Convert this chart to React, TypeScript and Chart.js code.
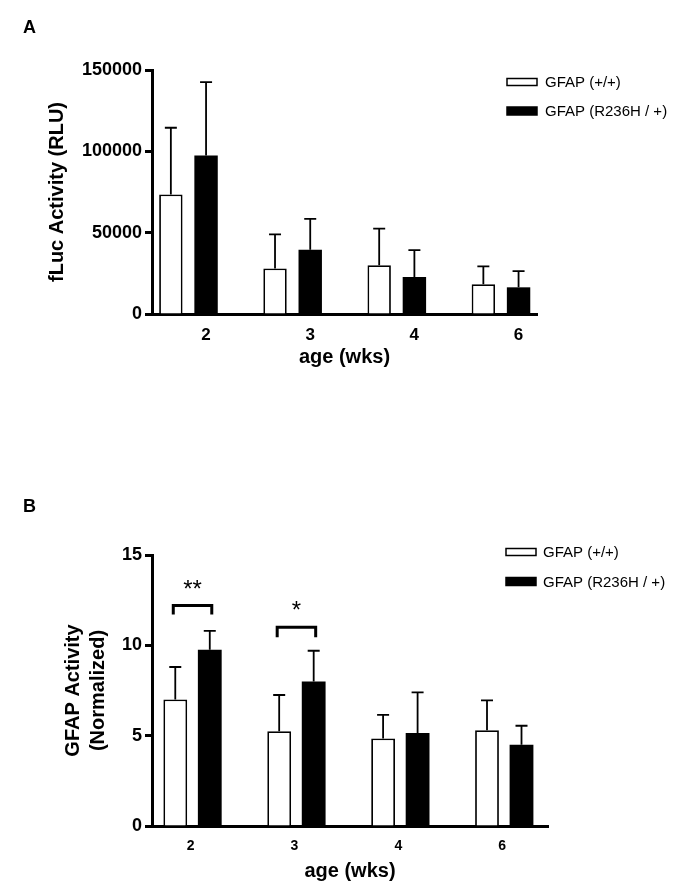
import React, { useEffect, useRef } from 'react';
import { Chart, registerables } from 'chart.js';

Chart.register(...registerables);

const FONT = "'Liberation Sans', Arial, Helvetica, sans-serif";

// shared
const categories = ['2', '3', '4', '6'];
const seriesNames = ['GFAP (+/+)', 'GFAP (R236H / +)'];
const xTitle = 'age (wks)';

// Panel A
const aTitle = 'fLuc Activity (RLU)';
const aWildMean = [73500, 28000, 30000, 18300];
const aWildSD = [41000, 21000, 22500, 11000];
const aMutMean = [97500, 39500, 22700, 16400];
const aMutSD = [45000, 19000, 16600, 10000];
const aYTicks = [0, 50000, 100000, 150000];

// Panel B
const bTitle = ['GFAP Activity', '(Normalized)'];
const bWildMean = [7.0, 5.25, 4.85, 5.3];
const bWildSD = [1.8, 2.0, 1.3, 1.65];
const bMutMean = [9.75, 8.0, 5.15, 4.5];
const bMutSD = [1.05, 1.7, 2.25, 1.05];
const bYTicks = [0, 5, 10, 15];

// Panel B significance markers
const bSigCategory = [0, 1];
const bSigLabel = ['**', '*'];
const bSigBracketTop = [12.2, 11.0];
const bSigBracketLeg = [11.7, 10.45];
const bSigLabelBase = [12.65, 11.5];

const toPoints = (vals: number[]) => vals.map((v, i) => ({ x: i, y: v }));

const errorBarPlugin = {
  id: 'errorBars',
  afterDatasetsDraw(chart: any, _args: any, opts: any) {
    const ctx = chart.ctx;
    const yScale = chart.scales.y;
    ctx.save();
    ctx.strokeStyle = '#000';
    ctx.lineWidth = opts.width || 1.8;
    chart.data.datasets.forEach((ds: any, di: number) => {
      const meta = chart.getDatasetMeta(di);
      const sds: number[] = opts.sds[di];
      meta.data.forEach((el: any, j: number) => {
        const v = ds.data[j].y;
        const top = yScale.getPixelForValue(v + sds[j]);
        const x = el.x;
        ctx.beginPath();
        ctx.moveTo(x, el.y);
        ctx.lineTo(x, top);
        ctx.moveTo(x - opts.cap, top);
        ctx.lineTo(x + opts.cap, top);
        ctx.stroke();
      });
    });
    ctx.restore();
  },
};

const boxLegendPlugin = {
  id: 'boxLegend',
  afterDraw(chart: any, _args: any, opts: any) {
    const ctx = chart.ctx;
    ctx.save();
    chart.data.datasets.forEach((ds: any, i: number) => {
      const cy = opts.ys[i];
      const h = opts.boxH[i];
      ctx.fillStyle = ds.backgroundColor;
      ctx.fillRect(opts.x, cy - h / 2, opts.boxW, h);
      ctx.strokeStyle = '#000';
      ctx.lineWidth = 1.5;
      ctx.strokeRect(opts.x, cy - h / 2, opts.boxW, h);
      ctx.fillStyle = '#000';
      ctx.font = `15px ${FONT}`;
      ctx.textAlign = 'left';
      ctx.textBaseline = 'middle';
      ctx.fillText(ds.label, opts.textX, cy + 1);
    });
    ctx.restore();
  },
};

const sigPlugin = {
  id: 'sigBrackets',
  afterDatasetsDraw(chart: any, _args: any, opts: any) {
    if (!opts || !opts.enabled) return;
    const ctx = chart.ctx;
    const yScale = chart.scales.y;
    const m0 = chart.getDatasetMeta(0);
    const m1 = chart.getDatasetMeta(1);
    ctx.save();
    ctx.strokeStyle = '#000';
    ctx.fillStyle = '#000';
    ctx.lineWidth = 3;
    ctx.lineJoin = 'miter';
    bSigCategory.forEach((idx, k) => {
      const x1 = m0.data[idx].x - 2;
      const x2 = m1.data[idx].x + 2;
      const yT = yScale.getPixelForValue(bSigBracketTop[k]);
      const yL = yScale.getPixelForValue(bSigBracketLeg[k]);
      ctx.beginPath();
      ctx.moveTo(x1, yL);
      ctx.lineTo(x1, yT);
      ctx.lineTo(x2, yT);
      ctx.lineTo(x2, yL);
      ctx.stroke();
      ctx.font = `24px ${FONT}`;
      ctx.textAlign = 'center';
      ctx.textBaseline = 'alphabetic';
      ctx.fillText(bSigLabel[k], (x1 + x2) / 2, yScale.getPixelForValue(bSigLabelBase[k]));
    });
    ctx.restore();
  },
};

type PanelCfg = {
  height: number;
  wild: number[];
  wildSD: number[];
  mut: number[];
  mutSD: number[];
  yTicks: number[];
  yTitle: string | string[];
  yTitleFont: any;
  yTitlePadTop: number;
  xMin: number;
  xMax: number;
  catPct: number;
  barPct: number;
  padTop: number;
  padRight: number;
  xAxisHeight: number;
  xTickFont: number;
  xTickPad: number;
  xLabelOffset: number;
  xTitlePadBottom: number;
  legendX: number;
  legendTextX: number;
  legendYs: number[];
  sig: boolean;
};

function buildConfig(p: PanelCfg): any {
  return {
    type: 'bar',
    data: {
      datasets: [
        {
          label: seriesNames[0],
          data: toPoints(p.wild),
          backgroundColor: '#ffffff',
          borderColor: '#000000',
          borderWidth: 1.8,
          categoryPercentage: p.catPct,
          barPercentage: p.barPct,
        },
        {
          label: seriesNames[1],
          data: toPoints(p.mut),
          backgroundColor: '#000000',
          borderColor: '#000000',
          borderWidth: 0,
          categoryPercentage: p.catPct,
          barPercentage: p.barPct,
        },
      ],
    },
    options: {
      responsive: false,
      animation: false,
      events: [],
      layout: { padding: { top: p.padTop, right: p.padRight, bottom: 0, left: 0 } },
      plugins: {
        legend: { display: false },
        tooltip: { enabled: false },
        errorBars: { sds: [p.wildSD, p.mutSD], cap: 6, width: 1.8 },
        boxLegend: { x: p.legendX, textX: p.legendTextX, ys: p.legendYs, boxW: 30, boxH: [7, 8] },
        sigBrackets: { enabled: p.sig },
      },
      scales: {
        x: {
          type: 'linear',
          min: p.xMin,
          max: p.xMax,
          offset: false,
          grid: { display: false, drawTicks: false },
          border: { display: true, color: '#000', width: 3 },
          afterBuildTicks: (s: any) => {
            s.ticks = categories.map((_, i) => ({ value: i }));
          },
          ticks: {
            autoSkip: false,
            maxRotation: 0,
            minRotation: 0,
            labelOffset: p.xLabelOffset,
            padding: p.xTickPad,
            color: '#000',
            font: { family: FONT, size: p.xTickFont, weight: 'bold' },
            callback: (v: any) => categories[Math.round(v)] ?? '',
          },
          title: {
            display: true,
            text: xTitle,
            color: '#000',
            font: { family: FONT, size: 20, weight: 'bold' },
            padding: { top: 0, bottom: p.xTitlePadBottom },
          },
          afterFit: (s: any) => {
            s.height = p.xAxisHeight;
          },
        },
        y: {
          min: p.yTicks[0],
          max: p.yTicks[p.yTicks.length - 1],
          afterBuildTicks: (s: any) => {
            s.ticks = p.yTicks.map((v) => ({ value: v }));
          },
          grid: {
            drawOnChartArea: false,
            drawTicks: true,
            tickLength: 7,
            tickWidth: 3,
            tickColor: '#000',
          },
          border: { display: true, color: '#000', width: 3 },
          ticks: {
            padding: 3,
            color: '#000',
            font: { family: FONT, size: 18, weight: 'bold' },
            callback: (v: any) => String(v),
          },
          title: {
            display: true,
            text: p.yTitle,
            color: '#000',
            font: p.yTitleFont,
            padding: { top: p.yTitlePadTop, bottom: 0 },
          },
          afterFit: (s: any) => {
            s.width = 152;
          },
        },
      },
    },
    plugins: [errorBarPlugin, boxLegendPlugin, sigPlugin],
  };
}

const panelA: PanelCfg = {
  height: 446,
  wild: aWildMean,
  wildSD: aWildSD,
  mut: aMutMean,
  mutSD: aMutSD,
  yTicks: aYTicks,
  yTitle: aTitle,
  yTitleFont: { family: FONT, size: 20, weight: 'bold' },
  yTitlePadTop: 45,
  xMin: -0.35,
  xMax: 3.346,
  catPct: 0.676,
  barPct: 0.665,
  padTop: 70,
  padRight: 152,
  xAxisHeight: 132,
  xTickFont: 17,
  xTickPad: 11,
  xLabelOffset: 17.5,
  xTitlePadBottom: 77,
  legendX: 507,
  legendTextX: 545,
  legendYs: [82, 111],
  sig: false,
};

const panelB: PanelCfg = {
  height: 447,
  wild: bWildMean,
  wildSD: bWildSD,
  mut: bMutMean,
  mutSD: bMutSD,
  yTicks: bYTicks,
  yTitle: bTitle,
  yTitleFont: { family: FONT, size: 20, weight: 'bold', lineHeight: 1.25 },
  yTitlePadTop: 61,
  xMin: -0.39,
  xMax: 3.421,
  catPct: 0.664,
  barPct: 0.69,
  padTop: 109,
  padRight: 141,
  xAxisHeight: 67,
  xTickFont: 14,
  xTickPad: 12,
  xLabelOffset: -2,
  xTitlePadBottom: 10,
  legendX: 506,
  legendTextX: 543,
  legendYs: [106, 135.5],
  sig: true,
};

function Panel({ cfg, top }: { cfg: PanelCfg; top: number }) {
  const ref = useRef<HTMLCanvasElement | null>(null);
  useEffect(() => {
    if (!ref.current) return;
    const chart = new Chart(ref.current, buildConfig(cfg));
    return () => chart.destroy();
  }, [cfg]);
  return (
    <canvas
      ref={ref}
      width={689}
      height={cfg.height}
      style={{ position: 'absolute', left: 0, top, width: 689, height: cfg.height, display: 'block' }}
    />
  );
}

const letterStyle: React.CSSProperties = {
  position: 'absolute',
  left: 23,
  fontFamily: FONT,
  fontWeight: 'bold',
  fontSize: 18,
  lineHeight: 'normal',
  color: '#000',
  margin: 0,
};

export default function App() {
  return (
    <div
      style={{
        position: 'absolute',
        left: 0,
        top: 0,
        width: 689,
        height: 893,
        overflow: 'hidden',
        background: '#fff',
      }}
    >
      <Panel cfg={panelA} top={0} />
      <Panel cfg={panelB} top={446} />
      <div style={{ ...letterStyle, top: 17 }}>A</div>
      <div style={{ ...letterStyle, top: 496 }}>B</div>
    </div>
  );
}
